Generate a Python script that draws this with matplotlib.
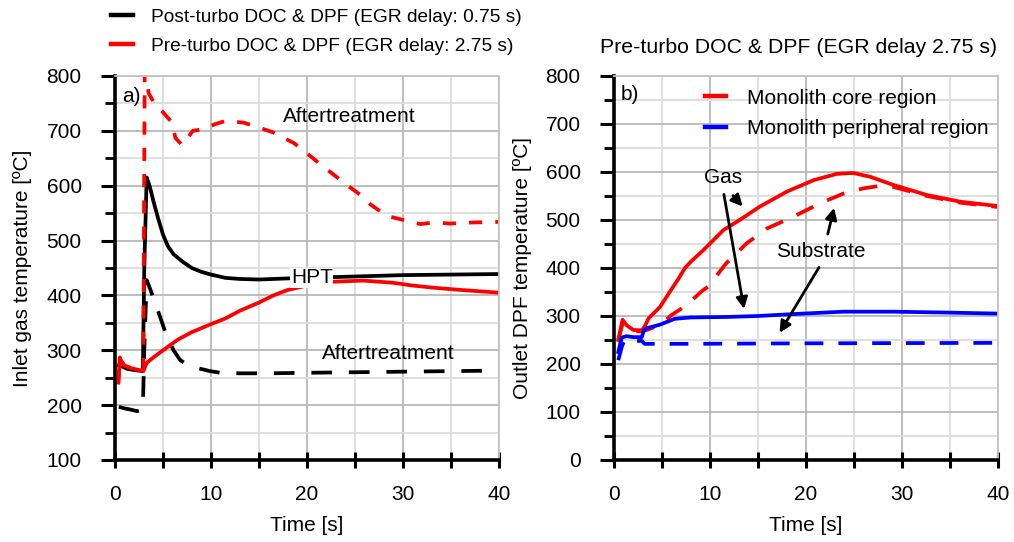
import numpy as np
import matplotlib
matplotlib.use('Agg')
import matplotlib.pyplot as plt
from matplotlib.lines import Line2D
from matplotlib.ticker import MultipleLocator

plt.rcParams['font.family'] = ['Liberation Sans', 'DejaVu Sans']
plt.rcParams['font.size'] = 15

# ---- panel a) inlet gas temperature ----
t_post_hpt = [0.4, 0.8, 1.3, 2.0, 2.9, 3.05, 3.3, 3.6, 4.0, 4.5, 5.0, 5.5, 6.1, 7.0, 8.0,
              9.0, 10.0, 11.5, 13, 15, 18, 22, 26, 30, 35, 40]
T_post_hpt = [272, 270, 266, 264, 262, 450, 615, 600, 572, 540, 511, 490, 475, 462, 450,
              443, 438, 432, 430, 429, 431, 433, 435, 437, 438, 439]

t_post_at = [0.4, 1.0, 1.6, 2.3, 2.9, 3.05, 3.3, 3.7, 4.2, 4.7, 5.3, 6.1, 6.8, 7.5, 8.5,
             9.9, 11, 13, 16, 20, 25, 30, 35, 40]
T_post_at = [197, 194, 192, 189, 192, 300, 428, 410, 385, 361, 330, 300, 282, 274, 268,
             262, 259, 258, 258, 259, 260, 261, 262, 263]

t_pre_hpt = [0.35, 0.5, 0.7, 1.0, 1.5, 2.0, 2.5, 2.95, 3.3, 4.0, 5.4, 6.6, 8.0, 9.9, 11.5,
             13, 15, 16.5, 18, 20, 22.7, 25.9, 29, 31, 33.2, 36, 40]
T_pre_hpt = [241, 287, 275, 272, 268, 266, 264, 262, 277, 287, 305, 320, 333, 347, 358,
             372, 387, 400, 410, 418, 425, 427, 423, 418, 414, 410, 405]

t_pre_at = [0.35, 0.5, 1.0, 2.0, 2.95, 3.1, 3.5, 4.2, 5.0, 5.9, 6.3, 7.0, 7.5, 8.1, 9.2,
            10.4, 11.5, 13.4, 15.5, 16.5, 18.6, 19.3, 21.4, 24.1, 25.5, 26.6, 28.3, 29.7,
            31.8, 33.2, 34.9, 37.3, 40]
T_pre_at = [241, 285, 272, 266, 262, 830, 769, 747, 734, 716, 687, 674, 685, 700, 703,
            712, 718, 715, 703, 697, 678, 669, 639, 602, 584, 566, 545, 539,
            530, 533, 531, 533, 534]

# ---- panel b) outlet DPF temperature, pre-turbo ----
t_core_gas = [0.45, 0.9, 1.3, 2.0, 2.9, 3.2, 3.6, 4.8, 5.8, 6.7, 7.4, 8.0, 9.3, 11.4, 13.1,
              15.2, 18.0, 20.8, 23.2, 24.9, 26.7, 29.1, 32.6, 36.1, 40]
T_core_gas = [250, 292, 281, 271, 270, 278, 295, 319, 350, 377, 400, 413, 437, 479, 500,
              528, 559, 583, 596, 598, 590, 573, 552, 538, 529]

t_core_sub = [0.45, 0.9, 1.3, 2.0, 3.0, 4.8, 6.0, 7.6, 9.1, 9.8, 11.7, 13.8, 15.9, 18.7,
              21.5, 23.9, 26.0, 27.7, 29.1, 32.6, 36.1, 40]
T_core_sub = [250, 285, 278, 268, 268, 281, 302, 323, 351, 361, 410, 451, 482, 507,
              535, 555, 566, 571, 569, 550, 536, 527]

t_peri_gas = [0.45, 0.8, 1.3, 2.0, 2.9, 3.1, 3.5, 4.8, 6.3, 8.0, 11.8, 15, 18.7, 23.9, 29.1,
              35, 40]
T_peri_gas = [225, 255, 258, 256, 256, 270, 275, 282, 294, 297, 298, 300, 304, 309, 309,
              307, 305]

t_peri_sub = [0.45, 0.8, 1.1, 2.0, 2.9, 3.2, 8.2, 18.7, 40]
T_peri_sub = [208, 235, 250, 248, 248, 242, 242, 243, 244]

fig = plt.figure(figsize=(10.14, 5.42), dpi=100)
ax1 = fig.add_axes([0.1134, 0.1513, 0.3787, 0.7085])
ax2 = fig.add_axes([0.6055, 0.1513, 0.3787, 0.7085])


def style_axes(ax, ymin, ymax):
    ax.set_xlim(0, 40)
    ax.set_ylim(ymin, ymax)
    ax.xaxis.set_major_locator(MultipleLocator(10))
    ax.xaxis.set_minor_locator(MultipleLocator(5))
    ax.yaxis.set_major_locator(MultipleLocator(100))
    ax.yaxis.set_minor_locator(MultipleLocator(50))
    ax.grid(which='major', color='#b8b8b8', lw=1.3)
    ax.grid(which='minor', color='#dcdcdc', lw=1.3)
    ax.set_axisbelow(True)
    for s in ['top', 'right']:
        ax.spines[s].set_color('#c4c4c4')
        ax.spines[s].set_linewidth(1.3)
    for s in ['left', 'bottom']:
        ax.spines[s].set_linewidth(2.6)
    ax.tick_params(axis='y', which='major', direction='out', length=10, width=2.2, pad=14)
    ax.tick_params(axis='y', which='minor', direction='out', length=7, width=2.0)
    ax.tick_params(axis='x', which='both', direction='inout', length=12, width=2.2, pad=12)
    ax.set_xlabel('Time [s]')
    ax.xaxis.set_label_coords(0.5, -0.145)


style_axes(ax1, 100, 800)
style_axes(ax2, 0, 800)

lw = 2.7
ax1.plot(t_post_hpt, T_post_hpt, color='black', lw=lw)
ax1.plot(t_post_at, T_post_at, color='black', lw=lw, dashes=(5.5, 4.5))
ax1.plot(t_pre_hpt, T_pre_hpt, color='#ff0000', lw=lw)
ax1.plot(t_pre_at, T_pre_at, color='#ff0000', lw=lw, dashes=(3.5, 3.5))

ax1.set_ylabel('Inlet gas temperature [ºC]')
ax1.yaxis.set_label_coords(-0.216, 0.5)
ax1.text(1.7, 762, 'a)', ha='center', va='center')
ax1.text(24.4, 727, 'Aftertreatment', ha='center', va='center')
ax1.text(20.5, 432, 'HPT', ha='center', va='center',
         bbox=dict(facecolor='white', edgecolor='none', pad=0.5))
ax1.text(28.5, 295, 'Aftertreatment', ha='center', va='center')

leg_handles = [Line2D([], [], color='black', lw=3.2),
               Line2D([], [], color='#ff0000', lw=3.2)]
fig.legend(leg_handles,
           ['Post-turbo DOC & DPF (EGR delay: 0.75 s)',
            'Pre-turbo DOC & DPF (EGR delay: 2.75 s)'],
           loc='upper left', bbox_to_anchor=(0.092, 1.016), frameon=False,
           prop={'size': 13.8},
           handlelength=1.15, handletextpad=0.95, labelspacing=0.6)

# panel b
ax2.plot(t_core_gas, T_core_gas, color='#ff0000', lw=lw)
ax2.plot(t_core_sub, T_core_sub, color='#ff0000', lw=lw, dashes=(5, 4))
ax2.plot(t_peri_gas, T_peri_gas, color='#0000ff', lw=lw)
ax2.plot(t_peri_sub, T_peri_sub, color='#0000ff', lw=lw, dashes=(5, 4))

ax2.set_ylabel('Outlet DPF temperature [ºC]')
ax2.yaxis.set_label_coords(-0.2135, 0.5)
ax2.text(0.48, 1.073, 'Pre-turbo DOC & DPF (EGR delay 2.75 s)', transform=ax2.transAxes,
         ha='center', va='center', fontsize=15.3)
ax2.text(1.7, 762, 'b)', ha='center', va='center')
ax2.legend([Line2D([], [], color='#ff0000', lw=3.2), Line2D([], [], color='#0000ff', lw=3.2)],
           ['Monolith core region', 'Monolith peripheral region'],
           loc='upper left', bbox_to_anchor=(0.2, 1.005), frameon=False,
           handlelength=1.0, handletextpad=1.0, labelspacing=0.55, borderaxespad=0.3)

arrow = dict(arrowstyle='-|>', color='black', lw=2.0, mutation_scale=17)
ax2.text(11.4, 589, 'Gas', ha='center', va='center')
ax2.annotate('', xy=(13.6, 524), xytext=(12.2, 555), arrowprops=arrow)
ax2.annotate('', xy=(13.6, 309), xytext=(11.4, 559), arrowprops=arrow)
ax2.text(21.5, 434, 'Substrate', ha='center', va='center')
ax2.annotate('', xy=(23.0, 531), xytext=(22.2, 465), arrowprops=arrow)
ax2.annotate('', xy=(17.1, 260), xytext=(21.5, 406), arrowprops=arrow)

fig.savefig('out.png', dpi=100)
